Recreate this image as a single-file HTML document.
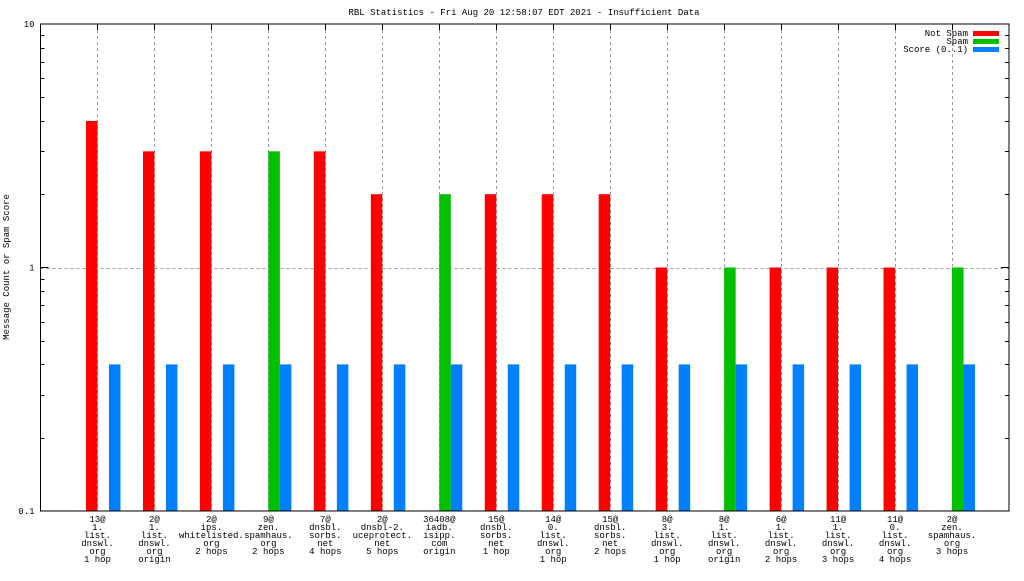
<!DOCTYPE html>
<html><head><meta charset="utf-8"><style>
body{margin:0;background:#fff}
svg text{font-family:"Liberation Mono","DejaVu Sans Mono",monospace;font-size:9px;fill:#000}
</style></head><body>
<svg id="chart" width="1024" height="576" xmlns="http://www.w3.org/2000/svg">
<rect width="1024" height="576" fill="#fff"/>
<text x="524" y="15" text-anchor="middle">RBL Statistics - Fri Aug 20 12:58:07 EDT 2021 - Insufficient Data</text>
<text transform="translate(9,267) rotate(-90)" text-anchor="middle">Message Count or Spam Score</text>
<g id="grid"></g><g id="bars"></g><g id="axes"></g><g id="labels"></g>
<g>
<text x="968" y="36" text-anchor="end">Not Spam</text><rect x="973" y="31" width="26" height="5" fill="#ff0000"/>
<text x="968" y="44" text-anchor="end">Spam</text><rect x="973" y="39" width="26" height="5" fill="#00c000"/>
<text x="968" y="52" text-anchor="end">Score (0..1)</text><rect x="973" y="47" width="26" height="5" fill="#0080ff"/>
</g>
</svg>
<script>
const categories=[
["13@","1.","list.","dnswl.","org","1 hop"],["2@","1.","list.","dnswl.","org","origin"],["2@","ips.","whitelisted.","org","2 hops"],["9@","zen.","spamhaus.","org","2 hops"],["7@","dnsbl.","sorbs.","net","4 hops"],["2@","dnsbl-2.","uceprotect.","net","5 hops"],["36408@","iadb.","isipp.","com","origin"],["15@","dnsbl.","sorbs.","net","1 hop"],["14@","0.","list.","dnswl.","org","1 hop"],["15@","dnsbl.","sorbs.","net","2 hops"],["8@","3.","list.","dnswl.","org","1 hop"],["8@","1.","list.","dnswl.","org","origin"],["6@","1.","list.","dnswl.","org","2 hops"],["11@","1.","list.","dnswl.","org","3 hops"],["11@","0.","list.","dnswl.","org","4 hops"],["2@","zen.","spamhaus.","org","3 hops"]];
const notSpam=[4,3,3,0,3,2,0,2,2,2,1,0,1,1,1,0];
const spam=[0,0,0,3,0,0,2,0,0,0,0,1,0,0,0,1];
const score=[0.4,0.4,0.4,0.4,0.4,0.4,0.4,0.4,0.4,0.4,0.4,0.4,0.4,0.4,0.4,0.4];
const yTicks=[0.1,1,10];
const L=40.5,R=1009,T=24,B=511,ymin=0.1,ymax=10;
const NS="http://www.w3.org/2000/svg";
const step=(R-L)/(categories.length+1);
const x=i=>L+(i+1)*step;
const y=v=>B-(Math.log10(v)-Math.log10(ymin))/(Math.log10(ymax)-Math.log10(ymin))*(B-T);
function mk(p,t,a){const e=document.createElementNS(NS,t);for(const k in a)e.setAttribute(k,a[k]);document.getElementById(p).appendChild(e);return e;}
const bw=11.5;
categories.forEach((c,i)=>{
 const cx=Math.round(x(i))+0.5;
 const g=mk('grid','line',{x1:cx,x2:cx,y1:T,y2:B,stroke:'#999','stroke-dasharray':'3,3'});
 
 
 const tk=mk('axes','line',{x1:cx,x2:cx,y1:T,y2:T+6,stroke:'#000'});
 
 
 [[notSpam[i],-bw,'#ff0000','bar-not-spam'],[spam[i],0,'#00c000','bar-spam'],[score[i],bw,'#0080ff','bar-score']].forEach(([v,o,col,n])=>{
  if(v<=ymin)return;
  const r=mk('bars','rect',{x:x(i)+o,y:y(v),width:bw,height:B-y(v),fill:col});
  
  
 });
 const t=mk('labels','text',{x:x(i),y:522,'text-anchor':'middle'});
 
 
 c.forEach((s,j)=>{const ts=document.createElementNS(NS,'tspan');ts.setAttribute('x',x(i));ts.setAttribute('dy',j?8:0);ts.textContent=s;t.appendChild(ts);});
});
// horizontal grid at 1
const hg=mk('grid','line',{x1:L,x2:R,y1:Math.round(y(1))+0.5,y2:Math.round(y(1))+0.5,stroke:'#999','stroke-dasharray':'3,3'});


yTicks.forEach(v=>{
 const t=mk('axes','text',{x:L-6,y:y(v)+3,'text-anchor':'end'});t.textContent=String(v);
 
 
 const l=mk('axes','line',{x1:L,x2:L+8,y1:y(v),y2:y(v),stroke:'#000'});
 
 
 const l2=mk('axes','line',{x1:R-8,x2:R,y1:y(v),y2:y(v),stroke:'#000'});
 
 
});
[0.1,1].forEach(d=>{for(let k=2;k<10;k++){const yy=Math.round(y(d*k))+0.5;
 const m=mk('axes','line',{x1:L,x2:L+4,y1:yy,y2:yy,stroke:'#000'});
 
 
 const m2=mk('axes','line',{x1:R-4,x2:R,y1:yy,y2:yy,stroke:'#000'});
 
 
}});
const f=mk('axes','rect',{x:L,y:T,width:R-L,height:B-T,fill:'none',stroke:'#000'});


</script>
</body></html>
